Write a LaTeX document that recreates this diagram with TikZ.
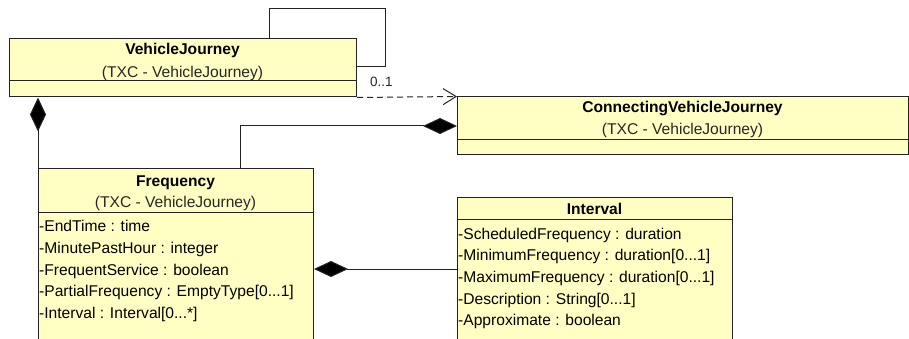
\documentclass[tikz,border=0pt]{standalone}
\usepackage{fontspec}
\setmainfont{Liberation Sans}
\usetikzlibrary{arrows.meta,calc}

\definecolor{classfill}{HTML}{FFFFC4}
\definecolor{classline}{HTML}{222222}
\definecolor{subtxt}{HTML}{262626}

\tikzset{
  classbox/.style={draw=classline, fill=classfill, line width=1pt,
    anchor=north west, inner sep=0pt, minimum width=#1},
  sep/.style={draw=classline, line width=1pt},
  ttl/.style={anchor=base, inner sep=0pt, font=\fontsize{15.6}{17}\selectfont\bfseries},
  sub/.style={anchor=base, inner sep=0pt, text=subtxt, font=\fontsize{15.6}{17}\selectfont},
  attr/.style={anchor=base west, inner sep=0pt, font=\fontsize{15.6}{17}\selectfont},
  mult/.style={anchor=base west, inner sep=0pt, text=subtxt, font=\fontsize{13.5}{15}\selectfont},
  conn/.style={draw=classline, line width=1pt},
  comp/.style={conn, {Diamond[length=34pt,width=16pt,fill=black]}-},
  dep/.style={conn, dash pattern=on 6pt off 4pt, -{Straight Barb[length=13pt,width=16pt,line width=1pt]}},
}

\begin{document}
\begin{tikzpicture}[x=1pt,y=-1pt]
  \useasboundingbox (0,0) rectangle (909,339);
  \clip (0,0) rectangle (909,339);

  % VehicleJourney
  \node[classbox=347pt, minimum height=58.5pt] (vj) at (9,38) {};
  \draw[sep] (9,81) -- (356,81);
  \node[ttl] (vjt) at (182.5,55) {VehicleJourney};
  \node[sub] (vjs) at (182.5,77.5) {(TXC - VehicleJourney)};

  % ConnectingVehicleJourney
  \node[classbox=451pt, minimum height=58pt] (cvj) at (457,96.5) {};
  \draw[sep] (457,140) -- (908,140);
  \node[ttl] (cvjt) at (682.5,113) {ConnectingVehicleJourney};
  \node[sub] (cvjs) at (682.5,135) {(TXC - VehicleJourney)};

  % Frequency
  \node[classbox=275pt, minimum height=190pt] (freq) at (38,168) {};
  \draw[sep] (38,212) -- (313,212);
  \node[ttl] (freqt) at (175.5,186) {Frequency};
  \node[sub] (freqs) at (175.5,207.5) {(TXC - VehicleJourney)};
  \node[attr] (fa1) at (39,231.7) {-EndTime : time};
  \node[attr] (fa2) at (39,253.3) {-MinutePastHour : integer};
  \node[attr] (fa3) at (39,275) {-FrequentService : boolean};
  \node[attr] (fa4) at (39,296.7) {-PartialFrequency : EmptyType[0...1]};
  \node[attr] (fa5) at (39,318.3) {-Interval : Interval[0...*]};

  % Interval
  \node[classbox=275pt, minimum height=160pt] (intv) at (457,197) {};
  \draw[sep] (457,219.3) -- (732,219.3);
  \node[ttl] (intvt) at (594.5,214) {Interval};
  \node[attr] (ia1) at (458,239) {-ScheduledFrequency : duration};
  \node[attr] (ia2) at (458,260.7) {-MinimumFrequency : duration[0...1]};
  \node[attr] (ia3) at (458,282.3) {-MaximumFrequency : duration[0...1]};
  \node[attr] (ia4) at (458,304) {-Description : String[0...1]};
  \node[attr] (ia5) at (458,325.7) {-Approximate : boolean};

  % Self association on VehicleJourney
  \coordinate (loop) at (385,9);
  \draw[conn] ($(vj.north west)+(260,0)$) |- (loop) |- ($(vj.north east)+(0,29)$);

  % Dependency VehicleJourney -> ConnectingVehicleJourney
  \draw[dep] (vj.south east) -- (cvj.north west);
  \node[mult] (m01) at (370,86.5) {0..1};

  % Compositions
  \draw[comp] (freq.north west |- vj.south) -- (freq.north west);
  \draw[comp] (cvj.west) -| ($(freq.north west)+(202,0)$);
  \coordinate (fi) at (0,269);
  \draw[comp] (freq.east |- fi) -- (intv.west |- fi);
\end{tikzpicture}
\end{document}
